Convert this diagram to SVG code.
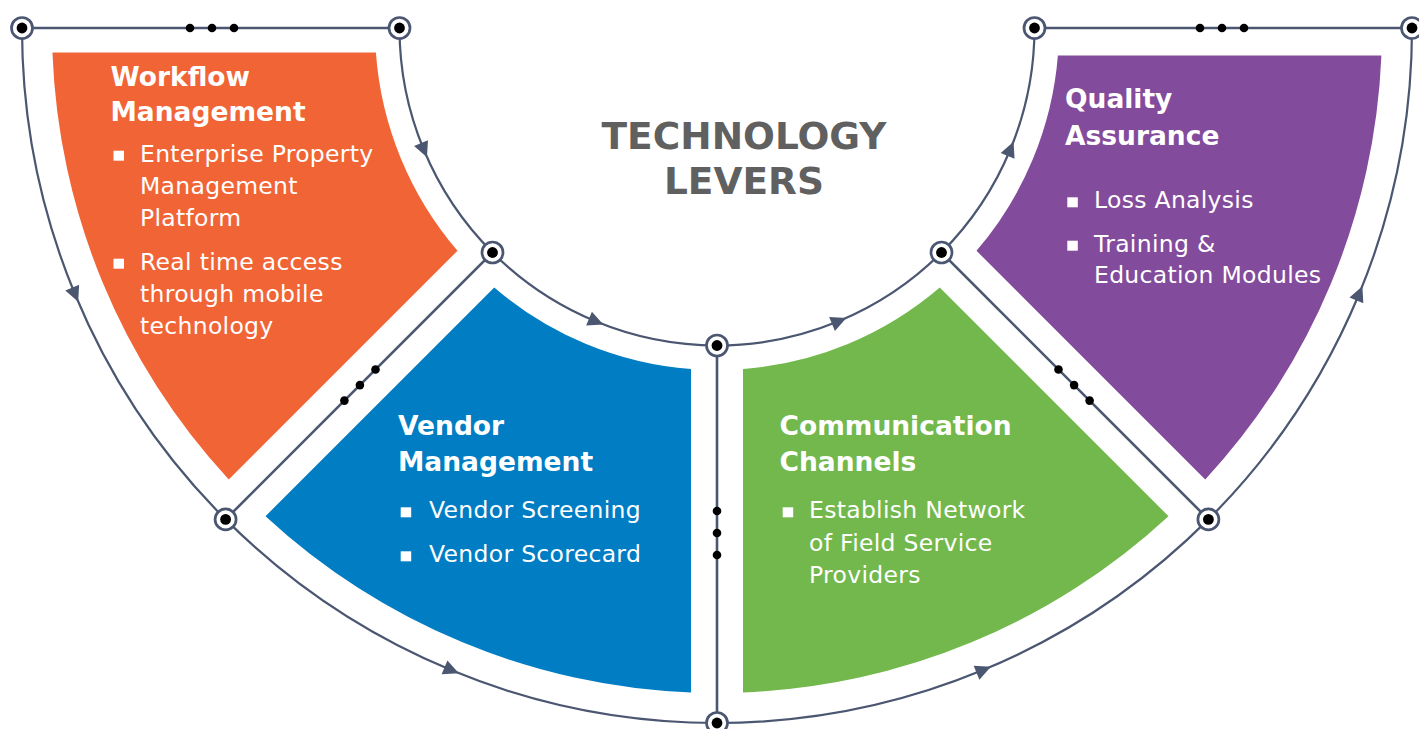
<svg xmlns="http://www.w3.org/2000/svg" width="1419" height="729" viewBox="0 0 1419 729">
  <style>
    .wire { fill: none; stroke: #4b5671; stroke-width: 2.2; }
    .spoke { fill: none; stroke: #4b5671; stroke-width: 2.6; }
    .flow { marker-mid: url(#arrow); }
    .dot { fill: #000; }
    .ring { fill: #fff; stroke: #4b5671; stroke-width: 2.7; }
    .hub { fill: #000; }
    .title { font-family: "DejaVu Sans", Verdana, sans-serif; font-weight: bold; font-size: 37.5px; fill: #606060; text-anchor: middle; }
    .head { font-family: "DejaVu Sans", Verdana, sans-serif; font-weight: bold; font-size: 26.5px; fill: #fff; }
    .body { font-family: "DejaVu Sans", Verdana, sans-serif; font-size: 23.5px; letter-spacing: 0.3px; fill: #fff; }
    .bullet { fill: #fff; }
  </style>
  <defs>
    <marker id="arrow" viewBox="-9 -9 18 18" markerWidth="18" markerHeight="18" markerUnits="userSpaceOnUse" orient="auto">
      <path d="M8.5,0 L-7,-7.5 L-7,7.5 Z" fill="#4b5671"/>
    </marker>
  </defs>

  <rect width="1419" height="729" fill="#fff"/>

  <!-- coloured sectors of the half ring: centre (717,28), radii 342 / 665 -->
  <g id="workflow-management">
    <path d="M52.45,52.5 L375.9,52.5 A342,342 0 0 0 457.5,250.75 L228.76,479.48 A665,665 0 0 1 52.45,52.5 Z" fill="#f16436"/>
    <text class="head" x="110.5" y="86">Workflow</text>
    <text class="head" x="110.5" y="121">Management</text>
    <rect class="bullet" x="113.5" y="150.7" width="10.5" height="10"/>
    <text class="body" x="140" y="162">Enterprise Property</text>
    <text class="body" x="140" y="194">Management</text>
    <text class="body" x="140" y="226">Platform</text>
    <rect class="bullet" x="113.5" y="258.7" width="10.5" height="10"/>
    <text class="body" x="140" y="270">Real time access</text>
    <text class="body" x="140" y="302">through mobile</text>
    <text class="body" x="140" y="334">technology</text>
  </g>

  <g id="vendor-management">
    <path d="M494.25,287.5 A342,342 0 0 0 691,369 L691,692.5 A665,665 0 0 1 265.5,516.2 Z" fill="#007dc3"/>
    <text class="head" x="398" y="435">Vendor</text>
    <text class="head" x="398" y="470.7">Management</text>
    <rect class="bullet" x="400.7" y="507.3" width="10.5" height="10"/>
    <text class="body" x="429" y="518.3">Vendor Screening</text>
    <rect class="bullet" x="400.7" y="551.3" width="10.5" height="10"/>
    <text class="body" x="429" y="562.3">Vendor Scorecard</text>
  </g>

  <g id="communication-channels">
    <path d="M743,369 A342,342 0 0 0 939.75,287.5 L1168.5,516.2 A665,665 0 0 1 743,692.5 Z" fill="#72b84c"/>
    <text class="head" x="779.5" y="435">Communication</text>
    <text class="head" x="779.5" y="470.7">Channels</text>
    <rect class="bullet" x="782.7" y="507.3" width="10.5" height="10"/>
    <text class="body" x="809" y="518.3">Establish Network</text>
    <text class="body" x="809" y="550.7">of Field Service</text>
    <text class="body" x="809" y="582.7">Providers</text>
  </g>

  <g id="quality-assurance">
    <path d="M1057.9,55.5 L1381.4,55.5 A665,665 0 0 1 1205.24,479.48 L976.5,250.75 A342,342 0 0 0 1057.9,55.5 Z" fill="#834b9b"/>
    <text class="head" x="1065" y="108.3">Quality</text>
    <text class="head" x="1065" y="145">Assurance</text>
    <rect class="bullet" x="1067.3" y="197.3" width="10.5" height="10"/>
    <text class="body" x="1094" y="208.3">Loss Analysis</text>
    <rect class="bullet" x="1067.3" y="240.7" width="10.5" height="10"/>
    <text class="body" x="1094" y="251.7">Training &amp;</text>
    <text class="body" x="1094" y="283.3">Education Modules</text>
  </g>

  <g id="title">
    <text class="title" x="744" y="149">TECHNOLOGY</text>
    <text class="title" x="744" y="194">LEVERS</text>
  </g>

  <!-- connectors: spokes, outer arc (r 695) and inner arc (r 317.5) -->
  <g id="connectors">
    <path class="spoke" d="M22,28 L399.5,28"/>
    <path class="spoke" d="M1034.5,28 L1412,28"/>
    <path class="spoke" d="M492.5,252.5 L225.6,519.4"/>
    <path class="spoke" d="M717,345.5 L717,723"/>
    <path class="spoke" d="M941.5,252.5 L1208.4,519.4"/>

    <path class="wire flow" d="M22,28 A695,695 0 0 0 74.9,294 A695,695 0 0 0 225.6,519.4"/>
    <path class="wire flow" d="M225.6,519.4 A695,695 0 0 0 451,670.1 A695,695 0 0 0 717,723"/>
    <path class="wire flow" d="M717,723 A695,695 0 0 0 983,670.1 A695,695 0 0 0 1208.4,519.4"/>
    <path class="wire flow" d="M1208.4,519.4 A695,695 0 0 0 1359.1,294 A695,695 0 0 0 1412,28"/>

    <path class="wire flow" d="M399.5,28 A317.5,317.5 0 0 0 423.7,149.5 A317.5,317.5 0 0 0 492.5,252.5"/>
    <path class="wire flow" d="M492.5,252.5 A317.5,317.5 0 0 0 595.5,321.3 A317.5,317.5 0 0 0 717,345.5"/>
    <path class="wire flow" d="M717,345.5 A317.5,317.5 0 0 0 838.5,321.3 A317.5,317.5 0 0 0 941.5,252.5"/>
    <path class="wire flow" d="M941.5,252.5 A317.5,317.5 0 0 0 1010.3,149.5 A317.5,317.5 0 0 0 1034.5,28"/>

    <!-- ellipsis dots on each spoke -->
    <circle class="dot" cx="190" cy="28" r="4.3"/>
    <circle class="dot" cx="212" cy="28" r="4.3"/>
    <circle class="dot" cx="234" cy="28" r="4.3"/>
    <circle class="dot" cx="1200" cy="28" r="4.3"/>
    <circle class="dot" cx="1222" cy="28" r="4.3"/>
    <circle class="dot" cx="1244" cy="28" r="4.3"/>
    <circle class="dot" cx="375.5" cy="369.5" r="4.3"/>
    <circle class="dot" cx="359.9" cy="385.1" r="4.3"/>
    <circle class="dot" cx="344.4" cy="400.6" r="4.3"/>
    <circle class="dot" cx="717" cy="511" r="4.3"/>
    <circle class="dot" cx="717" cy="533" r="4.3"/>
    <circle class="dot" cx="717" cy="555" r="4.3"/>
    <circle class="dot" cx="1058.5" cy="369.5" r="4.3"/>
    <circle class="dot" cx="1074.1" cy="385.1" r="4.3"/>
    <circle class="dot" cx="1089.6" cy="400.6" r="4.3"/>
  </g>

  <!-- junction nodes -->
  <g id="node-outer-180"><circle class="ring" cx="22" cy="28" r="10.5"/><circle class="hub" cx="22" cy="28" r="5.4"/></g>
  <g id="node-outer-135"><circle class="ring" cx="225.6" cy="519.4" r="10.5"/><circle class="hub" cx="225.6" cy="519.4" r="5.4"/></g>
  <g id="node-outer-90"><circle class="ring" cx="717" cy="723" r="10.5"/><circle class="hub" cx="717" cy="723" r="5.4"/></g>
  <g id="node-outer-45"><circle class="ring" cx="1208.4" cy="519.4" r="10.5"/><circle class="hub" cx="1208.4" cy="519.4" r="5.4"/></g>
  <g id="node-outer-0"><circle class="ring" cx="1412" cy="28" r="10.5"/><circle class="hub" cx="1412" cy="28" r="5.4"/></g>
  <g id="node-inner-180"><circle class="ring" cx="399.5" cy="28" r="10.5"/><circle class="hub" cx="399.5" cy="28" r="5.4"/></g>
  <g id="node-inner-135"><circle class="ring" cx="492.5" cy="252.5" r="10.5"/><circle class="hub" cx="492.5" cy="252.5" r="5.4"/></g>
  <g id="node-inner-90"><circle class="ring" cx="717" cy="345.5" r="10.5"/><circle class="hub" cx="717" cy="345.5" r="5.4"/></g>
  <g id="node-inner-45"><circle class="ring" cx="941.5" cy="252.5" r="10.5"/><circle class="hub" cx="941.5" cy="252.5" r="5.4"/></g>
  <g id="node-inner-0"><circle class="ring" cx="1034.5" cy="28" r="10.5"/><circle class="hub" cx="1034.5" cy="28" r="5.4"/></g>
</svg>
